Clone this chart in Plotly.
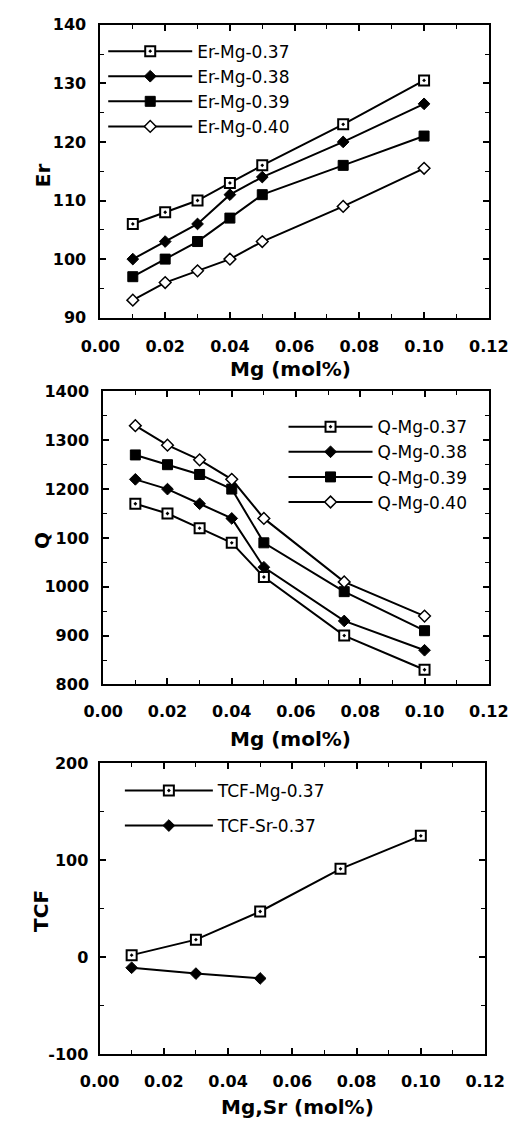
import plotly.graph_objects as go

W, H = 531, 1128

# ---------------- data ----------------
mg_x = [0.01, 0.02, 0.03, 0.04, 0.05, 0.075, 0.10]

er_names = ["Er-Mg-0.37", "Er-Mg-0.38", "Er-Mg-0.39", "Er-Mg-0.40"]
er_037 = [106, 108, 110, 113, 116, 123, 130.5]
er_038 = [100, 103, 106, 111, 114, 120, 126.5]
er_039 = [97, 100, 103, 107, 111, 116, 121]
er_040 = [93, 96, 98, 100, 103, 109, 115.5]

q_names = ["Q-Mg-0.37", "Q-Mg-0.38", "Q-Mg-0.39", "Q-Mg-0.40"]
q_037 = [1170, 1150, 1120, 1090, 1020, 900, 830]
q_038 = [1220, 1200, 1170, 1140, 1040, 930, 870]
q_039 = [1270, 1250, 1230, 1200, 1090, 990, 910]
q_040 = [1330, 1290, 1260, 1220, 1140, 1010, 940]

tcf_mg_x = [0.01, 0.03, 0.05, 0.075, 0.10]
tcf_mg = [2, 18, 47, 91, 125]
tcf_sr_x = [0.01, 0.03, 0.05]
tcf_sr = [-11, -17, -22]
tcf_names = ["TCF-Mg-0.37", "TCF-Sr-0.37"]

x_ticks = [0.00, 0.02, 0.04, 0.06, 0.08, 0.10, 0.12]
x_ticktext = ["0.00", "0.02", "0.04", "0.06", "0.08", "0.10", "0.12"]
er_ticks = [90, 100, 110, 120, 130, 140]
q_ticks = [800, 900, 1000, 1100, 1200, 1300, 1400]
q_ticktext = ["800", "900", "1000", "100", "1200", "1300", "1400"]
tcf_ticks = [-100, 0, 100, 200]

# ---------------- styles ----------------
TICKFONT = dict(family="DejaVu Sans", size=16, color="black", weight="bold")
LEGFONT = dict(family="DejaVu Sans", size=17, color="black")
TITLEFONT = dict(family="DejaVu Sans", size=20, color="black", weight="bold")

sym_styles = [
    dict(symbol="square-dot", size=10, color="white", line=dict(color="black", width=2)),
    dict(symbol="diamond", size=9, color="black", line=dict(color="black", width=1)),
    dict(symbol="square", size=10, color="black", line=dict(color="black", width=1)),
    dict(symbol="diamond", size=9, color="white", line=dict(color="black", width=1.5)),
]

fig = go.Figure()

def add_series(xs, ys, name, style, xa, ya, leg, group=None):
    fig.add_trace(go.Scatter(
        x=xs, y=ys, name=name, mode="lines+markers",
        line=dict(color="black", width=2),
        marker=style, xaxis=xa, yaxis=ya, legend=leg,
        legendgroup=group,
    ))

for ys, nm, st in zip([er_037, er_038, er_039, er_040], er_names, sym_styles):
    add_series(mg_x, ys, nm, st, "x", "y", "legend")
for ys, nm, st in zip([q_037, q_038, q_039, q_040], q_names, sym_styles):
    add_series(mg_x, ys, nm, st, "x2", "y2", "legend2")
add_series(tcf_mg_x, tcf_mg, tcf_names[0], sym_styles[0], "x3", "y3", "legend3", "g1")
add_series(tcf_sr_x, tcf_sr, tcf_names[1], sym_styles[1], "x3", "y3", "legend3", "g2")

def px_x(p):
    return p / W

def px_y(p):
    return 1 - p / H

def xaxis(domain, anchor, standoff):
    return dict(
        domain=domain, anchor=anchor, range=[0, 0.12],
        tickvals=x_ticks, ticktext=x_ticktext, tickfont=TICKFONT,
        ticks="inside", ticklen=6, tickwidth=1.5, tickcolor="black",
        minor=dict(dtick=0.01, tick0=0, ticks="inside", ticklen=4, tickwidth=1.2, tickcolor="black"),
        showline=True, linewidth=2, linecolor="black", mirror="ticks",
        showgrid=False, zeroline=False, ticklabelstandoff=standoff,
    )

def yaxis(domain, anchor, rng, vals, text, minor_d, standoff):
    return dict(
        domain=domain, anchor=anchor, range=rng,
        tickvals=vals, ticktext=text, tickfont=TICKFONT,
        ticks="inside", ticklen=6, tickwidth=1.5, tickcolor="black",
        minor=dict(dtick=minor_d, tick0=rng[0], ticks="inside", ticklen=4, tickwidth=1.2, tickcolor="black"),
        showline=True, linewidth=2, linecolor="black", mirror="ticks",
        showgrid=False, zeroline=False, ticklabelstandoff=standoff,
    )

fig.update_layout(
    width=W, height=H, margin=dict(l=0, r=0, t=0, b=0),
    paper_bgcolor="white", plot_bgcolor="white", showlegend=True,
    xaxis=xaxis([px_x(87), px_x(507)], "y", 13),
    yaxis=yaxis([px_y(314), px_y(16)], "x", [90, 140], er_ticks, [str(v) for v in er_ticks], 5, 9),
    xaxis2=xaxis([px_x(90), px_x(507)], "y2", 11),
    yaxis2=yaxis([px_y(687), px_y(389)], "x2", [800, 1400], q_ticks, q_ticktext, 50, 9),
    xaxis3=xaxis([px_x(86), px_x(503)], "y3", 12),
    yaxis3=yaxis([px_y(1063), px_y(767)], "x3", [-100, 200], tcf_ticks, [str(v) for v in tcf_ticks], 50, 6),
    legend=dict(x=px_x(90), y=px_y(25), xanchor="left", yanchor="top", font=LEGFONT,
                bgcolor="rgba(0,0,0,0)", itemwidth=84, tracegroupgap=0),
    legend2=dict(x=px_x(285), y=px_y(407), xanchor="left", yanchor="top", font=LEGFONT,
                 bgcolor="rgba(0,0,0,0)", itemwidth=84, tracegroupgap=0),
    legend3=dict(x=px_x(108), y=px_y(777), xanchor="left", yanchor="top", font=LEGFONT,
                 bgcolor="rgba(0,0,0,0)", itemwidth=88, tracegroupgap=10),
)

titles = [
    ("Er", 25, 169, -90),
    ("Mg (mol%)", 292, 366, 0),
    ("Q", 24, 541, -90),
    ("Mg (mol%)", 293, 742, 0),
    ("TCF", 22, 917, -90),
    ("Mg,Sr (mol%)", 300, 1117, 0),
]
for txt, xp, yp, ang in titles:
    fig.add_annotation(text=txt, x=px_x(xp), y=px_y(yp), xref="paper", yref="paper",
                       showarrow=False, textangle=ang, font=TITLEFONT,
                       xanchor="center", yanchor="middle")

fig.write_html("out.html")
